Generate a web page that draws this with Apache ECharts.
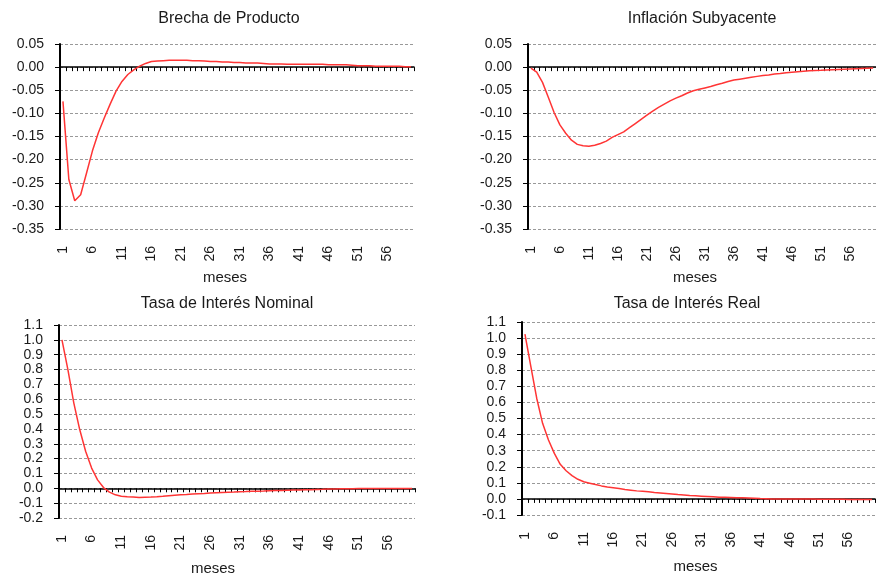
<!DOCTYPE html>
<html>
<head>
<meta charset="utf-8">
<script src="https://cdn.jsdelivr.net/npm/echarts@6/dist/echarts.min.js"></script>
<style>html,body{margin:0;padding:0;background:#fff;}#c{width:876px;height:577px;}</style>
</head>
<body>
<div id="c"></div>
<script>
const meses = ['1','2','3','4','5','6','7','8','9','10','11','12','13','14','15','16','17','18','19','20',
  '21','22','23','24','25','26','27','28','29','30','31','32','33','34','35','36','37','38','39','40',
  '41','42','43','44','45','46','47','48','49','50','51','52','53','54','55','56','57','58','59','60'];

const titles = ['Brecha de Producto', 'Inflación Subyacente', 'Tasa de Interés Nominal', 'Tasa de Interés Real'];
const xAxisName = 'meses';

const brechaProducto = [-0.074,-0.243,-0.289,-0.276,-0.229,-0.181,-0.142,-0.110,-0.080,-0.052,
  -0.031,-0.016,-0.006,0.002,0.008,0.012,0.013,0.014,0.015,0.015,
  0.015,0.015,0.014,0.014,0.013,0.012,0.012,0.011,0.011,0.010,
  0.010,0.009,0.009,0.009,0.008,0.007,0.007,0.007,0.006,0.006,
  0.006,0.006,0.006,0.006,0.006,0.005,0.005,0.005,0.005,0.004,
  0.003,0.003,0.003,0.002,0.002,0.002,0.002,0.002,0.001,0.001];

const inflacionSubyacente = [-0.002,-0.011,-0.033,-0.065,-0.098,-0.125,-0.143,-0.158,-0.167,-0.170,
  -0.171,-0.169,-0.165,-0.160,-0.152,-0.146,-0.140,-0.131,-0.122,-0.113,
  -0.104,-0.095,-0.087,-0.080,-0.073,-0.067,-0.062,-0.056,-0.051,-0.048,
  -0.045,-0.042,-0.038,-0.035,-0.031,-0.028,-0.026,-0.024,-0.022,-0.020,
  -0.018,-0.017,-0.015,-0.014,-0.012,-0.011,-0.010,-0.009,-0.008,-0.0075,
  -0.007,-0.006,-0.0055,-0.005,-0.0045,-0.004,-0.0035,-0.003,-0.0025,-0.002];

const tasaNominal = [1.00,0.80,0.574,0.394,0.248,0.136,0.057,0.005,-0.026,-0.044,
  -0.053,-0.057,-0.059,-0.062,-0.060,-0.059,-0.057,-0.054,-0.050,-0.047,
  -0.044,-0.042,-0.039,-0.037,-0.035,-0.032,-0.030,-0.028,-0.026,-0.025,
  -0.023,-0.022,-0.020,-0.019,-0.018,-0.016,-0.015,-0.014,-0.013,-0.012,
  -0.011,-0.010,-0.009,-0.008,-0.007,-0.004,-0.004,-0.003,-0.003,-0.003,
  -0.002,-0.002,-0.002,-0.002,-0.001,-0.001,-0.001,-0.001,-0.001,-0.001];

const tasaReal = [1.025,0.824,0.626,0.470,0.366,0.283,0.215,0.175,0.145,0.122,
  0.107,0.098,0.089,0.081,0.074,0.070,0.065,0.058,0.054,0.050,
  0.047,0.044,0.040,0.037,0.034,0.031,0.027,0.024,0.021,0.019,
  0.017,0.015,0.013,0.011,0.010,0.009,0.008,0.007,0.006,0.004,
  0.002,0.001,0.000,0.000,-0.001,-0.001,-0.001,-0.001,-0.001,-0.001,
  -0.002,-0.002,-0.002,-0.002,-0.002,-0.003,-0.003,-0.003,-0.003,-0.003];

// y-axis ranges [min, max, interval, decimals]
const yRanges = [[-0.35, 0.05, 0.05, 2], [-0.35, 0.05, 0.05, 2], [-0.2, 1.1, 0.1, 1], [-0.1, 1.1, 0.1, 1]];
const seriesData = [brechaProducto, inflacionSubyacente, tasaNominal, tasaReal];

// layout
const grids = [
  {left: 60, top: 44, width: 354, height: 185},
  {left: 528, top: 44, width: 352, height: 185},
  {left: 59, top: 325, width: 356, height: 193},
  {left: 522, top: 322, width: 353, height: 193}
];
const titlePos = [[224, 6], [697, 6], [222, 291], [682, 291]];
const namePad = [24, 14, 48, 6];
const nameGap = [41, 41, 43, 44];

const FONT = 'Liberation Sans, Arial, sans-serif';
const txt = '#1a1a1a';

const option = {
  animation: false,
  backgroundColor: '#ffffff',
  title: titles.map((t, i) => ({
    text: t, left: titlePos[i][0], top: titlePos[i][1], textAlign: 'center',
    textStyle: {fontFamily: FONT, fontSize: 16, fontWeight: 'normal', color: txt}
  })),
  grid: grids,
  xAxis: [],
  yAxis: [],
  series: []
};

for (let i = 0; i < 4; i++) {
  // bottom axis carrying labels and name
  option.xAxis.push({
    type: 'category', gridIndex: i, data: meses, position: 'bottom', boundaryGap: true,
    axisLine: {show: false, onZero: false}, axisTick: {show: false},
    axisLabel: {interval: 4, rotate: 90, margin: 17, fontFamily: FONT, fontSize: 14, color: txt},
    splitLine: {show: false},
    name: xAxisName, nameLocation: 'middle', nameGap: nameGap[i],
    nameTextStyle: {fontFamily: FONT, fontSize: 15, color: txt, padding: [0, namePad[i], 0, 0]}
  });
  // zero-line axis with ticks
  option.xAxis.push({
    type: 'category', gridIndex: i, data: meses, position: 'top', boundaryGap: true,
    axisLine: {show: true, onZero: true, lineStyle: {color: '#000', width: 1.5}},
    axisTick: {show: true, inside: true, length: 4, lineStyle: {color: '#000', width: 1}, interval: 0},
    axisLabel: {show: false}, splitLine: {show: false}
  });
  const r = yRanges[i];
  option.yAxis.push({
    type: 'value', gridIndex: i, min: r[0], max: r[1], interval: r[2],
    axisLine: {show: true, lineStyle: {color: '#000', width: 2}},
    axisTick: {show: true, length: 5, lineStyle: {color: '#000', width: 1}},
    axisLabel: {margin: 16, fontFamily: FONT, fontSize: 14, color: txt,
      formatter: v => Number(v).toFixed(r[3])},
    splitLine: {show: true, lineStyle: {color: '#999', type: [3, 2], width: 1}}
  });
  option.series.push({
    type: 'line', xAxisIndex: i * 2, yAxisIndex: i, data: seriesData[i],
    symbol: 'none', smooth: false, z: 5,
    lineStyle: {color: '#ff3535', width: 1.5}
  });
}

const chart = echarts.init(document.getElementById('c'), null, {renderer: 'canvas'});
chart.setOption(option);
</script>
</body>
</html>
